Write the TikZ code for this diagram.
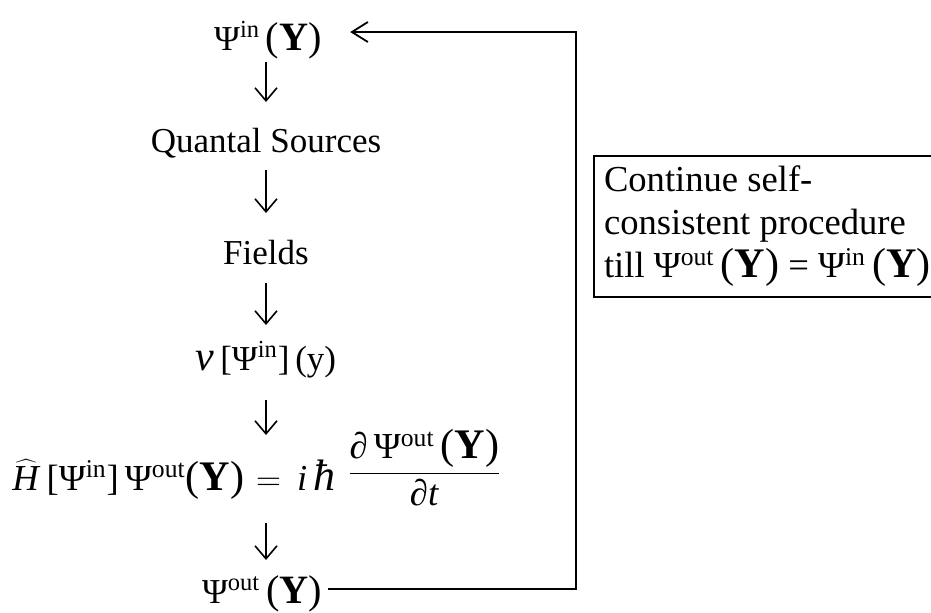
\documentclass[tikz,border=0pt]{standalone}
\usepackage{fontspec}
\setmainfont{Liberation Serif}
\usetikzlibrary{arrows.meta,calc}
\newcommand{\argY}{\scalebox{1.15}{(\textbf{Y})}}
\newcommand{\Psiup}[1]{Ψ\textsuperscript{#1}}

\begin{document}
\begin{tikzpicture}[x=0.5pt,y=-0.5pt,
  stage/.style={anchor=base,inner sep=0pt,text height=13pt,text depth=4pt,font=\fontsize{17.5}{21}\selectfont},
  flow/.style={line width=0.8pt,-{Straight Barb[length=6.5pt,width=11pt]}},
  feedback/.style={line width=1.3pt,-{Straight Barb[length=8pt,width=10pt,line width=0.9pt]}},
  note/.style={draw,line width=1pt,align=left,inner xsep=5pt,inner ysep=5pt,font=\fontsize{18.3}{21.5}\selectfont}]
\useasboundingbox (0,0) rectangle (931,612);
% chain of stages
\node[stage] (psiin) at (268,50) {\Psiup{in}\,\argY};
\node[stage] (sources) at (266,152) {Quantal Sources};
\node[stage] (fields) at (266,264) {Fields};
\node[stage] (nu) at (266,370) {{\fontsize{21}{21}\selectfont\textit{ν}}\,[\Psiup{in}]\,(y)};
\node[anchor=base west,inner sep=0pt,font=\fontsize{18.3}{21}\selectfont] (schrod) at (12,490)
  {$\widehat{\mbox{\textit{H}}}$\,[\Psiup{in}]\,\Psiup{out}\argY\hspace{6pt}$=$\hspace{8pt}\textit{i}\,{\fontsize{22}{22}\selectfont\textit{ħ}}\hspace{6pt}\raisebox{4pt}{$\displaystyle\frac{\mbox{\textit{∂}\,\Psiup{out}\,\argY}}{\mbox{\rule{0pt}{12.5pt}\textit{∂t}}}$}};
\node[stage,text height=18pt] (psiout) at (262,603) {\Psiup{out}\,\argY};
% arrows between stages
\draw[flow] ($(sources.base |- psiin.base)+(0,12)$) -- ($(sources.base)+(0,-50)$);
\draw[flow] ($(sources.base)+(0,18)$) -- ($(fields.base)+(0,-51)$);
\draw[flow] ($(fields.base)+(0,19)$) -- ($(nu.base)+(0,-45)$);
\draw[flow] ($(nu.base)+(0,30)$) -- ($(nu.base |- schrod.base)+(0,-55)$);
\draw[flow] ($(nu.base |- schrod.base)+(0,33)$) -- ($(nu.base |- psiout.base)+(0,-43)$);
% feedback loop
\coordinate (turn) at (576,32);
\draw[feedback,shorten <=3pt,shorten >=14pt] (psiout.east) -| (turn) -- (turn -| psiin.east);
\node[note,anchor=north west] (cond) at (593,155)
  {Continue self-\\consistent procedure\\till \Psiup{out}\,\argY\ = \Psiup{in}\,\argY};
\end{tikzpicture}
\end{document}
